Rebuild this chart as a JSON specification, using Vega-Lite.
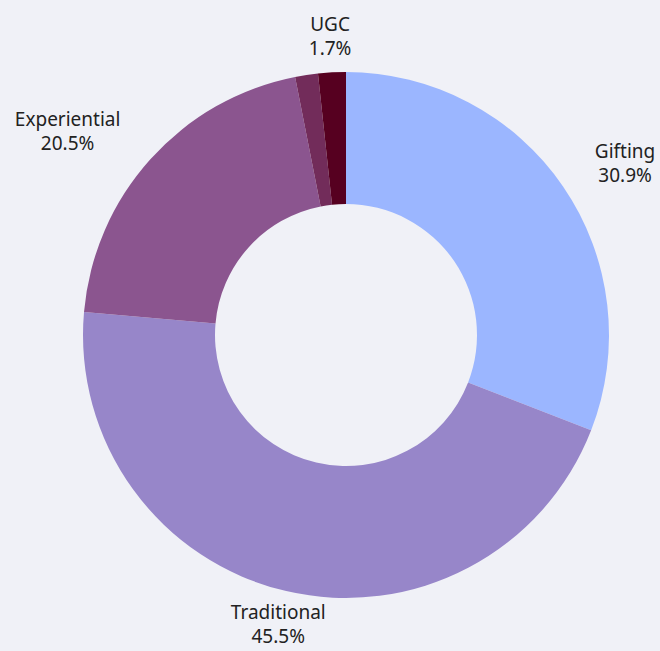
{
  "$schema": "https://vega.github.io/schema/vega-lite/v6.json",
  "width": 660,
  "height": 651,
  "autosize": {"type": "fit", "contains": "padding"},
  "padding": {"left": 30, "top": 19, "right": 0, "bottom": 0},
  "background": "#f0f1f7",
  "view": {"stroke": null},
  "data": {"values": [
    {"category": "Gifting", "value": 30.9, "rank": 1},
    {"category": "Traditional", "value": 45.5, "rank": 2},
    {"category": "Experiential", "value": 20.5, "rank": 3},
    {"category": "Other", "value": 1.4, "rank": 4},
    {"category": "UGC", "value": 1.7, "rank": 5}
  ]},
  "transform": [
    {"stack": "value", "groupby": [], "sort": [{"field": "rank", "order": "ascending"}], "as": ["v0", "v1"]},
    {"calculate": "(datum.v0 + datum.v1) / 2", "as": "mid"},
    {"calculate": "datum.category + '\\n' + format(datum.value, '.1f') + '%'", "as": "label"}
  ],
  "layer": [
    {
      "mark": {"type": "arc", "outerRadius": 263, "innerRadius": 131},
      "encoding": {
        "theta": {"field": "v0", "type": "quantitative", "scale": {"domain": [0, 100]}},
        "theta2": {"field": "v1"},
        "color": {
          "field": "category", "type": "nominal", "legend": null,
          "scale": {
            "domain": ["Gifting", "Traditional", "Experiential", "Other", "UGC"],
            "range": ["#9bb6ff", "#9786c9", "#8b558f", "#722c5a", "#560020"]
          }
        }
      }
    },
    {
      "transform": [{"filter": "datum.category == 'Gifting'"}],
      "mark": {"type": "text", "radius": 303, "dx": 29, "dy": -12, "align": "center", "baseline": "middle", "lineBreak": "\n", "lineHeight": 24, "font": "Noto Sans", "fontSize": 19, "color": "#222222"},
      "encoding": {
        "theta": {"field": "mid", "type": "quantitative", "scale": {"domain": [0, 100]}},
        "text": {"field": "label"}
      }
    },
    {
      "transform": [{"filter": "datum.category == 'Experiential'"}],
      "mark": {"type": "text", "radius": 303, "dx": -53, "dy": -12, "align": "center", "baseline": "middle", "lineBreak": "\n", "lineHeight": 24, "font": "Noto Sans", "fontSize": 19, "color": "#222222"},
      "encoding": {
        "theta": {"field": "mid", "type": "quantitative", "scale": {"domain": [0, 100]}},
        "text": {"field": "label"}
      }
    },
    {
      "transform": [{"filter": "datum.category == 'Traditional' || datum.category == 'UGC'"}],
      "mark": {"type": "text", "radius": 298, "dy": -12, "align": "center", "baseline": "middle", "lineBreak": "\n", "lineHeight": 24, "font": "Noto Sans", "fontSize": 19, "color": "#222222"},
      "encoding": {
        "theta": {"field": "mid", "type": "quantitative", "scale": {"domain": [0, 100]}},
        "text": {"field": "label"}
      }
    }
  ]
}
